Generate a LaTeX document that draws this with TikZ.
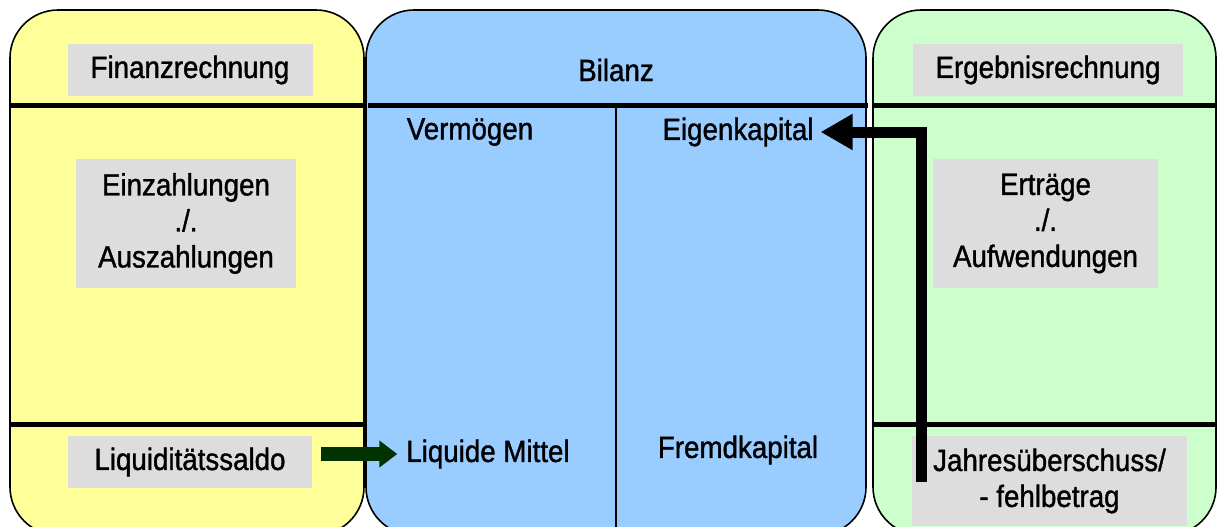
\documentclass[tikz,border=0pt]{standalone}
\usepackage{fontspec}
\setmainfont{Liberation Sans}[FakeStretch=0.9, FakeBold=1.2]
\usetikzlibrary{arrows.meta}

\definecolor{gelb}{HTML}{FFFF99}
\definecolor{blau}{HTML}{99CCFF}
\definecolor{gruen}{HTML}{CCFFCC}
\definecolor{grau}{HTML}{DDDDDD}
\definecolor{dunkelgruen}{HTML}{003300}

\tikzset{
  feld/.style={draw, line width=0.8pt, rounded corners=24pt},
  kasten/.style={fill=grau, inner sep=0pt, align=center},
  trenner/.style={line width=2.5pt},
}

\begin{document}
\begin{tikzpicture}[x=0.5pt, y=-0.5pt, >=stealth, font=\fontsize{15.4}{18}\selectfont]
  \clip (0,0) rectangle (1218,526);

  % Felder
  \draw[feld, fill=gelb] (10,10) rectangle (364,535);
  \draw[feld, fill=blau] (366,10) rectangle (866,535);
  \draw[feld, fill=gruen] (873,10) rectangle (1216,535);

  % Trennlinien
  \draw[trenner] (10,105) -- (364,105);
  \draw[trenner] (368,105) -- (868,105);
  \draw[trenner] (873,105) -- (1216,105);
  \draw[trenner] (10,424) -- (364,424);
  \draw[trenner] (873,424) -- (1216,424);
  \draw[line width=1pt] (616,105) -- (616,535);

  % Finanzrechnung
  \node[kasten, minimum width=122.5pt, minimum height=26pt] (fin) at (190,70) {Finanzrechnung};
  \node[kasten, minimum width=110pt, minimum height=64.5pt] (ein) at (186,223.5) {Einzahlungen\\./.\\Auszahlungen};
  \node[kasten, minimum width=122pt, minimum height=26pt] (liq) at (190,462) {Liquiditätssaldo};

  % Bilanz
  \node (bil) at (616,70) {Bilanz};
  \node (verm) at (470,132) {Vermögen};
  \node (eigen) at (738,132) {Eigenkapital};
  \node (lm) at (488,454) {Liquide Mittel};
  \node (fremd) at (738,450) {Fremdkapital};

  % Ergebnisrechnung
  \node[kasten, minimum width=135pt, minimum height=26pt] (erg) at (1048,70) {Ergebnisrechnung};
  \node[kasten, minimum width=112.5pt, minimum height=64.5pt] (ert) at (1045.5,223.5) {Erträge\\./.\\Aufwendungen};
  \node[kasten, minimum width=137.5pt, minimum height=45pt] (jahr) at (1049.5,481) {Jahresüberschuss/\\- fehlbetrag};

  % Pfeile
  \coordinate (js) at (921,482);
  \draw[line width=7pt, dunkelgruen, -{Triangle[length=9pt,width=13pt]}, shorten <=4.5pt, shorten >=1pt] (liq.east |- lm.west) -- (lm.west);
  \draw[line width=5.5pt, -{Triangle[length=16pt,width=17pt]}] (js) |- (eigen.east);

\end{tikzpicture}
\end{document}
